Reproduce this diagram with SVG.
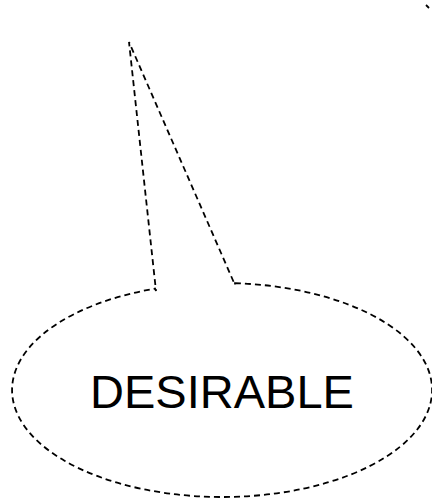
<svg xmlns="http://www.w3.org/2000/svg" width="432" height="502" viewBox="0 0 432 502">
<style>
.d{fill:none;stroke:#000;stroke-width:1.8;stroke-dasharray:6 4}
.t{font-family:"Liberation Sans",Arial,sans-serif;font-size:47px;fill:#000;text-anchor:middle}
</style>
<rect width="432" height="502" fill="#fff"/>
<g id="bubble">
<path class="d" d="M 235 283.2 A 210 107 0 1 1 155 288.6 L 156 291 L 129 42 L 235 285 Z"/>
<text class="t" x="222" y="408">DESIRABLE</text>
</g>
<g id="connectors">
<line x1="426" y1="5" x2="429" y2="8" stroke="#000" stroke-width="1.8"/>
</g>
</svg>
